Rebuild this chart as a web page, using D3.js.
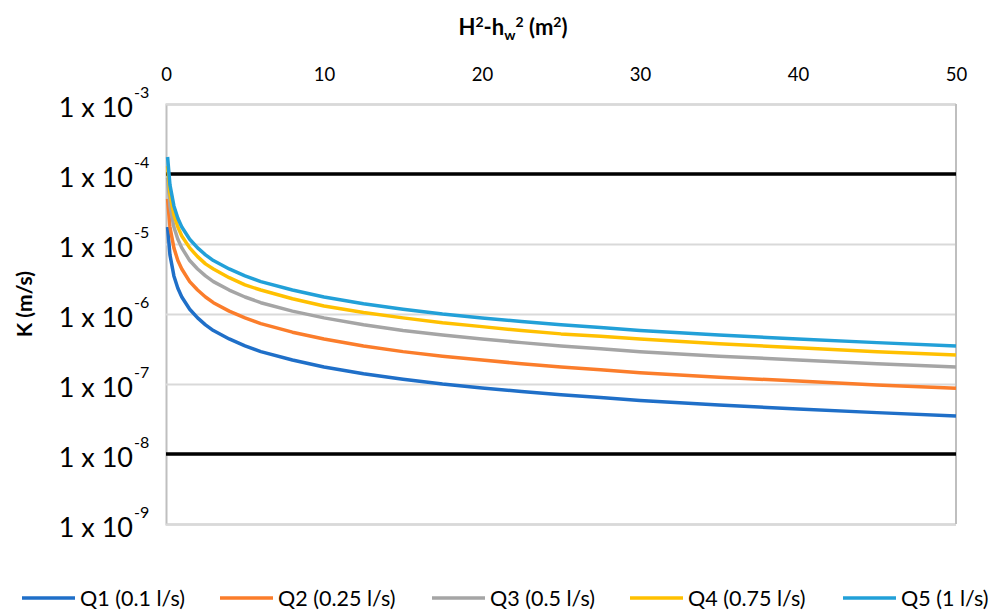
<!DOCTYPE html>
<html>
<head>
<meta charset="utf-8">
<script src="https://cdn.jsdelivr.net/npm/d3@7"></script>
<style>
  body { margin: 0; background: #fff; }
  text { font-family: Lato, "Open Sans", sans-serif; fill: #000; }
</style>
</head>
<body>
<svg id="chart" width="995" height="610"></svg>
<script>
// H^2 - hw^2 (m2) sample positions
const xs = [0.1, 0.25, 0.5, 0.75, 1, 1.5, 2, 2.5, 3, 4, 5, 6, 8, 10, 12.5, 15, 17.5, 20, 22.5, 25, 27.5, 30, 35, 40, 45, 50];

const q1 = [1.75e-5, 7.0e-6, 3.5e-6, 2.33e-6, 1.75e-6, 1.17e-6, 8.8e-7, 7.0e-7, 5.8e-7, 4.4e-7, 3.5e-7, 2.9e-7, 2.2e-7, 1.75e-7, 1.4e-7, 1.17e-7, 1.0e-7, 8.8e-8, 7.8e-8, 7.0e-8, 6.4e-8, 5.8e-8, 5.0e-8, 4.4e-8, 3.9e-8, 3.5e-8];
const q2 = [4.4e-5, 1.75e-5, 8.8e-6, 5.8e-6, 4.4e-6, 2.9e-6, 2.2e-6, 1.75e-6, 1.45e-6, 1.1e-6, 8.8e-7, 7.3e-7, 5.5e-7, 4.4e-7, 3.5e-7, 2.9e-7, 2.5e-7, 2.2e-7, 1.95e-7, 1.75e-7, 1.6e-7, 1.45e-7, 1.25e-7, 1.1e-7, 9.7e-8, 8.7e-8];
const q3 = [8.8e-5, 3.5e-5, 1.75e-5, 1.17e-5, 8.8e-6, 5.8e-6, 4.4e-6, 3.5e-6, 2.9e-6, 2.2e-6, 1.75e-6, 1.45e-6, 1.1e-6, 8.8e-7, 7.0e-7, 5.8e-7, 5.0e-7, 4.4e-7, 3.9e-7, 3.5e-7, 3.2e-7, 2.9e-7, 2.5e-7, 2.2e-7, 1.95e-7, 1.75e-7];
const q4 = [1.3e-4, 5.2e-5, 2.6e-5, 1.75e-5, 1.3e-5, 8.8e-6, 6.6e-6, 5.2e-6, 4.4e-6, 3.3e-6, 2.6e-6, 2.2e-6, 1.65e-6, 1.3e-6, 1.05e-6, 8.8e-7, 7.5e-7, 6.6e-7, 5.8e-7, 5.2e-7, 4.8e-7, 4.4e-7, 3.75e-7, 3.3e-7, 2.9e-7, 2.6e-7];
const q5 = [1.75e-4, 7.0e-5, 3.5e-5, 2.33e-5, 1.75e-5, 1.17e-5, 8.8e-6, 7.0e-6, 5.8e-6, 4.4e-6, 3.5e-6, 2.9e-6, 2.2e-6, 1.75e-6, 1.4e-6, 1.17e-6, 1.0e-6, 8.8e-7, 7.8e-7, 7.0e-7, 6.4e-7, 5.8e-7, 5.0e-7, 4.4e-7, 3.9e-7, 3.5e-7];

const seriesNames = ['Q1 (0.1 l/s)', 'Q2 (0.25 l/s)', 'Q3 (0.5 l/s)', 'Q4 (0.75 l/s)', 'Q5 (1 l/s)'];
const seriesValues = [q1, q2, q3, q4, q5];
const seriesColors = ['#1f6fc8', '#fb7d2b', '#a5a5a5', '#ffc000', '#22a0d8'];

// limit lines
const limitValues = [1e-4, 1e-8];

const xTicks = [0, 10, 20, 30, 40, 50];
const yTicks = [1e-3, 1e-4, 1e-5, 1e-6, 1e-7, 1e-8, 1e-9];

const svg = d3.select('#chart');
const plotLeft = 166, plotRight = 956, plotTop = 104, plotBottom = 524;

const x = d3.scaleLinear().domain([0, 50]).range([plotLeft, plotRight]);
const y = d3.scaleLog().domain([1e-9, 1e-3]).range([plotBottom, plotTop]);

// grid + y axis
const yAxis = svg.append('g')
  .attr('transform', 'translate(' + plotLeft + ',0)')
  .call(d3.axisLeft(y).tickValues(yTicks).tickSize(-(plotRight - plotLeft)).tickFormat(''));
yAxis.select('.domain').attr('stroke', '#bfbfbf').attr('stroke-width', 2);
yAxis.selectAll('.tick line').attr('stroke', '#d9d9d9').attr('stroke-width', 2);

yTicks.forEach(function(t) {
  var exp = Math.round(Math.log10(t));
  svg.append('text')
    .attr('x', 133).attr('y', y(t) + 13)
    .attr('text-anchor', 'end')
    .style('font-size', '27px')
    .text('1 x 10');
  svg.append('text')
    .attr('x', 134).attr('y', y(t) - 6)
    .style('font-size', '16px')
    .text(exp);
});

// right border
svg.append('line')
  .attr('x1', plotRight).attr('x2', plotRight).attr('y1', plotTop).attr('y2', plotBottom)
  .attr('stroke', '#bfbfbf').attr('stroke-width', 2);

// top axis, labels only
const xAxis = svg.append('g')
  .attr('transform', 'translate(0,' + (plotTop - 23) + ')')
  .call(d3.axisTop(x).tickValues(xTicks).tickSize(0).tickPadding(0));
xAxis.select('.domain').remove();
xAxis.selectAll('text')
  .style('font-size', '18.5px')
  .style('font-family', 'Lato, "Open Sans", sans-serif');

// axis titles
const title = svg.append('text')
  .attr('x', 513).attr('y', 35)
  .attr('text-anchor', 'middle')
  .style('font-size', '22px').style('font-weight', 'bold');
title.append('tspan').text('H');
title.append('tspan').attr('dy', -8).style('font-size', '14px').text('2');
title.append('tspan').attr('dy', 8).text('-h');
title.append('tspan').attr('dy', 5).style('font-size', '14px').text('w');
title.append('tspan').attr('dy', -13).style('font-size', '14px').text('2');
title.append('tspan').attr('dy', 8).text(' (m');
title.append('tspan').attr('dy', -8).style('font-size', '14px').text('2');
title.append('tspan').attr('dy', 8).text(')');

svg.append('text')
  .attr('transform', 'translate(32,304) rotate(-90)')
  .attr('text-anchor', 'middle')
  .style('font-size', '21px').style('font-weight', 'bold')
  .text('K (m/s)');

// limit lines
limitValues.forEach(function(v) {
  svg.append('path')
    .datum([[0, v], [50, v]])
    .attr('fill', 'none')
    .attr('stroke', '#000')
    .attr('stroke-width', 3.5)
    .attr('d', d3.line().x(d => x(d[0])).y(d => y(d[1])));
});

// series
const line = d3.line().x(d => x(d[0])).y(d => y(d[1]));
seriesValues.forEach(function(vals, i) {
  svg.append('path')
    .datum(xs.map((xv, j) => [xv, vals[j]]))
    .attr('fill', 'none')
    .attr('stroke', seriesColors[i])
    .attr('stroke-width', 3.5)
    .attr('stroke-linejoin', 'round')
    .attr('d', line);
});

// legend
const legendX = [22, 220, 432, 630, 843];
seriesNames.forEach(function(name, i) {
  var g = svg.append('g').attr('transform', 'translate(' + legendX[i] + ',598)');
  g.append('line').attr('x1', 0).attr('x2', 53).attr('y1', 0).attr('y2', 0)
    .attr('stroke', seriesColors[i]).attr('stroke-width', 3.5);
  g.append('text').attr('x', 58).attr('y', 7.5)
    .style('font-size', '21.5px')
    .text(name);
});
</script>
</body>
</html>
